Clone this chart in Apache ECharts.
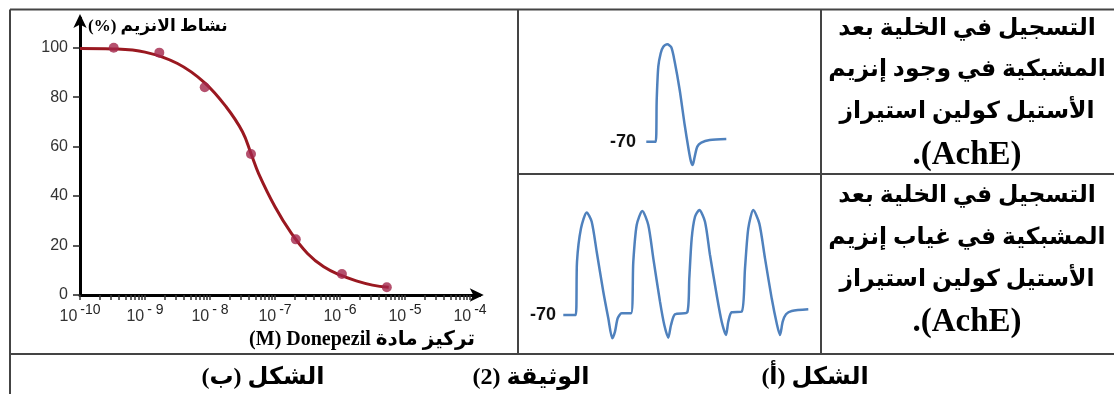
<!DOCTYPE html>
<html><head><meta charset="utf-8">
<script src="https://cdn.jsdelivr.net/npm/echarts@6/dist/echarts.min.js"></script>
<style>html,body{margin:0;padding:0;background:#fff}#c{width:1114px;height:394px}</style>
</head><body><div id="c"></div><script>
// ---- Figure (b): enzyme activity vs Donepezil concentration ----
const doseConc = [3.3e-10, 1.66e-9, 8.3e-9, 4.27e-8, 2.09e-7, 1.07e-6, 5.25e-6];
const activity = [100, 98, 84, 57, 22.5, 8.5, 3.1];
const fitConc = [1e-10, 3.16e-10, 1e-9, 3.16e-9, 8.3e-9, 1.78e-8, 3.16e-8, 4.27e-8, 5.62e-8, 1e-7, 1.78e-7, 3.16e-7, 5.62e-7, 1e-6, 1.78e-6, 3.16e-6, 5.62e-6];
const fitActivity = [99.7, 99.5, 98.2, 93.6, 85.8, 76, 66, 57.2, 49, 35.7, 25, 16.8, 11.4, 8.1, 5.7, 4.0, 3.1];
const yTicks = [0, 20, 40, 60, 80, 100];
const xDecades = [1e-10, 1e-9, 1e-8, 1e-7, 1e-6, 1e-5, 1e-4];
const xDecadeSup = ['-10', '- 9', '- 8', '-7', '-6', '-5', '-4'];
const xMinorMult = [1, 2, 3, 4, 5, 6, 7, 8, 9];
// ---- Figure (a): recordings (time, mV) ----
const ap1T = [0.63, 1.57, 1.67, 1.83, 2.07, 2.33, 2.73, 3.13, 3.47, 3.97, 4.47, 4.87, 5.1, 5.27, 5.47, 5.73, 6.13, 6.97, 8.63];
const ap1V = [-70, -70, -27.2, 7.0, 20.8, 27.5, 30, 26.9, 12.1, -16.9, -52.9, -78.5, -90.5, -93.9, -85.4, -75.1, -71, -68.3, -67.2];
const ap2T = [0.33, 1.57, 1.7, 2.1, 2.67, 3.17, 3.67, 4.33, 4.83, 5.23, 5.5, 5.77, 6.17, 7.1, 7.33, 7.67, 8.23, 8.83, 9.33, 10.0, 10.43, 10.83, 11.1, 11.5, 12.73, 12.93, 13.17, 13.5, 13.93, 14.5, 15.0, 15.67, 16.17, 16.6, 16.83, 17.17, 18.17, 18.5, 18.83, 19.33, 19.93, 20.5, 21.17, 21.67, 22.0, 22.27, 22.6, 23.17, 24.83];
const ap2V = [-70, -70, -15.3, 19.0, 35.4, 25.8, -5.0, -46.1, -73.4, -93.9, -87.1, -73.4, -68.3, -68.3, -15.3, 22.4, 36.8, 22.4, -11.8, -56.3, -80.3, -93.3, -80.3, -69.3, -67.2, -32.3, 8.7, 30.9, 37.8, 25.8, -8.4, -49.5, -76.9, -90.5, -76.9, -67.2, -66.6, -22.1, 19.0, 37.8, 24.1, -11.8, -52.9, -78.5, -90.5, -76.9, -69.3, -65.9, -64.1];
const restTicks = [-70];
// ---- Texts ----
const yTitle = '(%) نشاط الانزيم';
const xTitle = '(M) Donepezil تركيز مادة';
const cellTop = ['التسجيل في الخلية بعد', 'المشبكية في وجود إنزيم', 'الأستيل كولين استيراز', '.(AchE)'];
const cellBottom = ['التسجيل في الخلية بعد', 'المشبكية في غياب إنزيم', 'الأستيل كولين استيراز', '.(AchE)'];
const captions = ['الشكل (ب)\u200F', 'الوثيقة (2)\u200F', 'الشكل (أ)\u200F'];

const minorTicks = [];
for (let d = 0; d < xDecades.length - 1; d++) xMinorMult.forEach(m => minorTicks.push(xDecades[d] * m));
minorTicks.push(xDecades[xDecades.length - 1]);

const chart = echarts.init(document.getElementById('c'));
const lineCol = '#444';
const arFont = 'bold 23.5px "Liberation Serif", "DejaVu Sans", serif';
const latFont = 'bold 33px "Liberation Serif", serif';
function L(x1, y1, x2, y2) { return { type: 'line', shape: { x1, y1, x2, y2 }, style: { stroke: lineCol, lineWidth: 2 }, silent: true }; }
function T(text, x, y, font, align) { return { type: 'text', x, y, style: { text, font, fill: '#000', align: align || 'center', verticalAlign: 'middle' }, silent: true }; }
const cellX = 967;
const topYs = [29, 70, 112, 155];
const botYs = [196, 238, 280, 322];
const graphics = [
  L(10, 9.5, 1114, 9.5), L(10, 9.5, 10, 394), L(518, 9.5, 518, 354), L(821, 9.5, 821, 354),
  L(518, 174, 1114, 174), L(10, 354, 1114, 354),
  T(yTitle, 88, 27, 'bold 17px "Liberation Serif", "DejaVu Sans", serif', 'left'),
  T(xTitle, 362, 340, 'bold 20px "Liberation Serif", "DejaVu Sans", serif'),
  T(captions[0], 263, 378, 'bold 24px "Liberation Serif", "DejaVu Sans", serif'),
  T(captions[1], 531, 378, 'bold 24px "Liberation Serif", "DejaVu Sans", serif'),
  T(captions[2], 815, 378, 'bold 24px "Liberation Serif", "DejaVu Sans", serif')
];
cellTop.forEach((t, i) => graphics.push(T(t, cellX, topYs[i], i === 3 ? latFont : arFont)));
cellBottom.forEach((t, i) => graphics.push(T(t, cellX, botYs[i], i === 3 ? latFont : arFont)));

const restAxis = (gi) => ({
  type: 'value', gridIndex: gi, min: -100, max: 40,
  axisLine: { show: false }, splitLine: { show: false }, axisTick: { show: false },
  axisLabel: { customValues: restTicks, margin: 4, color: '#111', fontWeight: 'bold', fontSize: 18, fontFamily: '"Liberation Sans", Arial, sans-serif' }
});
const hiddenX = (gi, max) => ({ type: 'value', gridIndex: gi, min: 0, max, show: false });

chart.setOption({
  animation: false,
  backgroundColor: '#fff',
  grid: [
    { left: 80, right: 634.25, top: 18, bottom: 99 },
    { left: 640, right: 374, top: 34.56, bottom: 223.1 },
    { left: 560, right: 294, top: 207.9, bottom: 49.8 }
  ],
  xAxis: [
    {
      type: 'log', logBase: 10, gridIndex: 0, min: 1e-10, max: 1.4125e-4,
      axisLine: { lineStyle: { color: '#000', width: 3 }, symbol: ['none', 'arrow'], symbolSize: [10, 14], symbolOffset: [0, 4] },
      axisTick: { customValues: minorTicks, length: 5, lineStyle: { color: '#333', width: 1.5 } },
      splitLine: { show: false }, minorTick: { show: false },
      axisLabel: {
        customValues: xDecades, margin: 8,
        formatter: (v) => { const i = xDecades.findIndex(d => Math.abs(Math.log10(d) - Math.log10(v)) < 0.01); return '{b|10}{s|' + (i >= 0 ? xDecadeSup[i] : '') + '}'; },
        rich: {
          b: { fontSize: 16, color: '#333', fontFamily: '"Liberation Sans", Arial, sans-serif', padding: [6, 0, 0, 0] },
          s: { fontSize: 14, color: '#222', fontFamily: '"Liberation Sans", Arial, sans-serif', padding: [0, 0, 8, 3] }
        }
      }
    },
    hiddenX(1, 10), hiddenX(2, 26)
  ],
  yAxis: [
    {
      type: 'value', gridIndex: 0, min: 0, max: 112,
      axisLine: { show: true, lineStyle: { color: '#000', width: 3 }, symbol: ['none', 'arrow'], symbolSize: [10, 14], symbolOffset: [0, 4] },
      axisTick: { show: true, customValues: yTicks, length: 7, lineStyle: { color: '#222', width: 1.5 } },
      splitLine: { show: false },
      axisLabel: { customValues: yTicks, margin: 12, color: '#333', fontSize: 16, fontFamily: '"Liberation Sans", Arial, sans-serif' }
    },
    restAxis(1), restAxis(2)
  ],
  series: [
    { type: 'line', xAxisIndex: 0, yAxisIndex: 0, data: fitConc.map((c, i) => [c, fitActivity[i]]), smooth: 0.4, showSymbol: false, symbol: 'none', lineStyle: { color: '#9a1820', width: 3 }, z: 3 },
    { type: 'scatter', xAxisIndex: 0, yAxisIndex: 0, data: doseConc.map((c, i) => [c, activity[i]]), symbolSize: 10, itemStyle: { color: '#a3264a' }, z: 4 },
    { type: 'line', xAxisIndex: 1, yAxisIndex: 1, data: ap1T.map((t, i) => [t, ap1V[i]]), smooth: 0.25, symbol: 'none', lineStyle: { color: '#4f81bd', width: 2.5 } },
    { type: 'line', xAxisIndex: 2, yAxisIndex: 2, data: ap2T.map((t, i) => [t, ap2V[i]]), smooth: 0.25, symbol: 'none', lineStyle: { color: '#4f81bd', width: 2.5 } }
  ],
  graphic: graphics
});
</script></body></html>
